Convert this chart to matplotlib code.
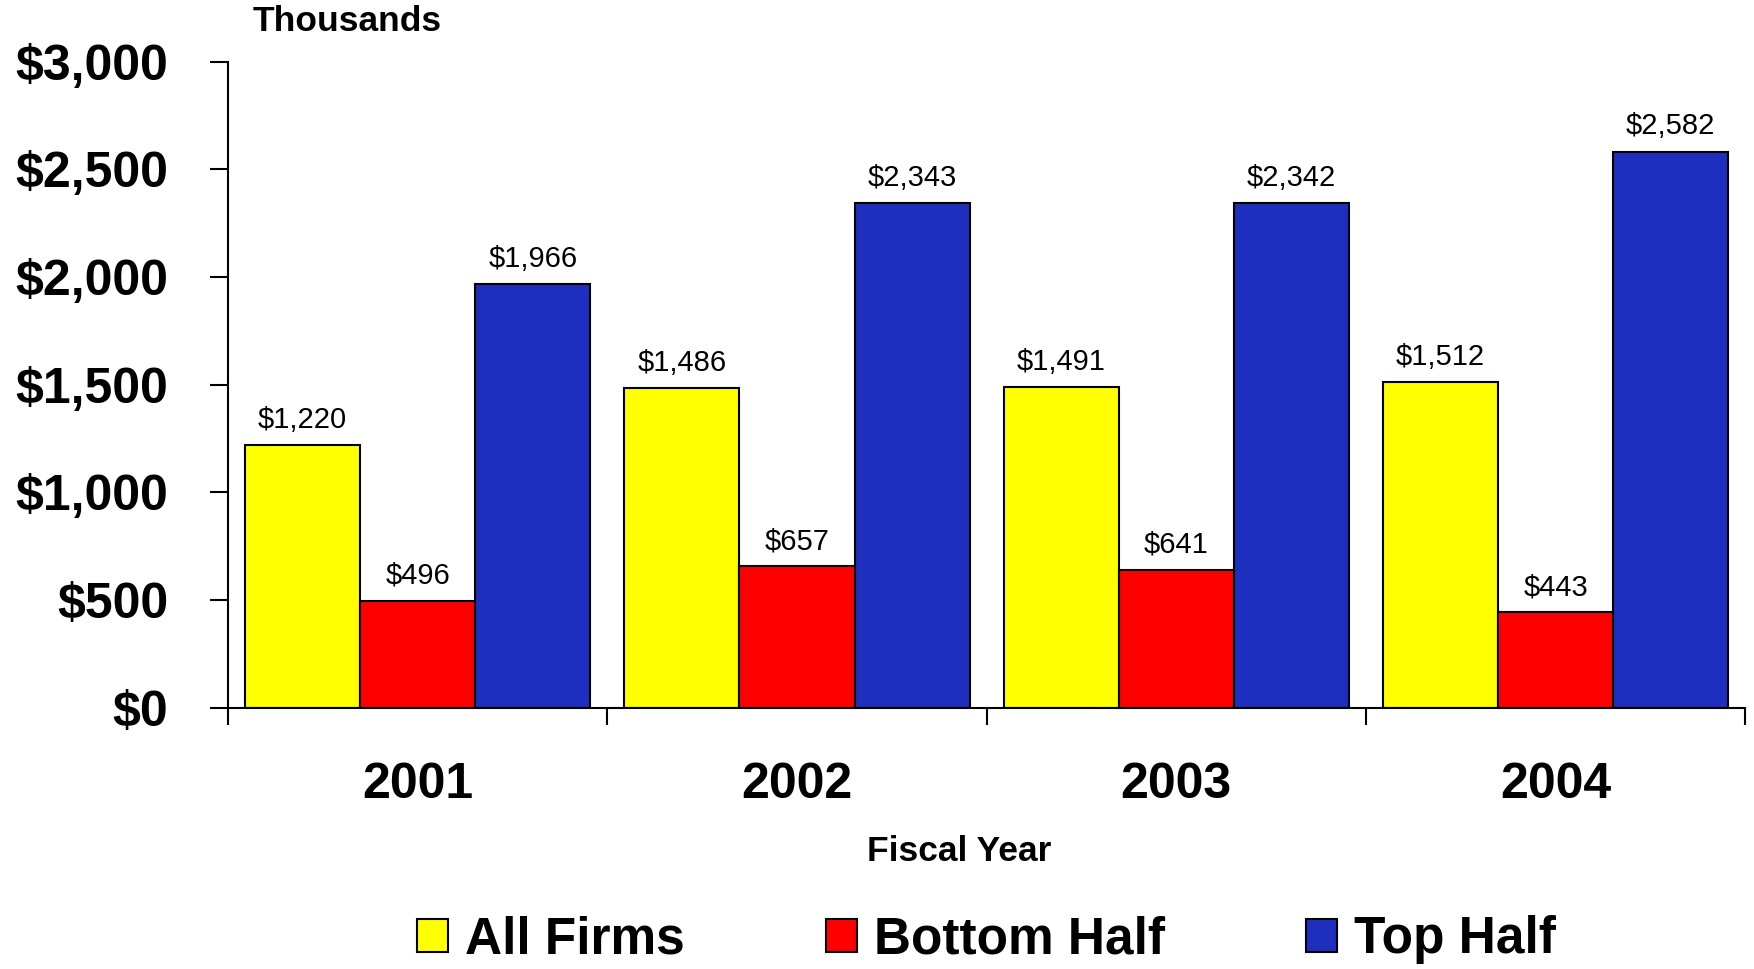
import matplotlib
matplotlib.use("Agg")
import matplotlib.pyplot as plt
from matplotlib.patches import Patch
import numpy as np

plt.rcParams['font.family'] = ['Liberation Sans', 'DejaVu Sans']

years = ['2001', '2002', '2003', '2004']
series = ['All Firms', 'Bottom Half', 'Top Half']
all_firms = [1220, 1486, 1491, 1512]
bottom_half = [496, 657, 641, 443]
top_half = [1966, 2343, 2342, 2582]
colors = ['#FFFF00', '#FF0000', '#1E2EBE']


def money(v):
    return "${:,.0f}".format(v)


def bar_chart():
    fig = plt.figure(figsize=(17.54, 9.69), dpi=100)
    ax = fig.add_axes([0.130, 0.2694, 0.865, 0.6671])

    x = np.arange(len(years))
    w = 0.3035
    for k, (vals, col) in enumerate(zip([all_firms, bottom_half, top_half], colors)):
        pos = x + (k - 1) * w
        ax.bar(pos, vals, width=w, color=col, edgecolor='black', linewidth=1.5)
        for px, v in zip(pos, vals):
            ax.annotate(money(v), (px, v), xytext=(0, 8), textcoords='offset points',
                        ha='center', va='bottom', fontsize=21)

    ax.set_xlim(-0.5, len(years) - 0.5)
    ax.set_ylim(0, 3000)
    ax.set_yticks(np.arange(0, 3001, 500))
    ax.set_yticklabels([money(v) for v in np.arange(0, 3001, 500)],
                       fontsize=36, fontweight='bold')
    ax.tick_params(axis='y', length=13, width=1.5, pad=30)

    # year labels sit at the group centres, tick marks at the group boundaries
    ax.set_xticks(x)
    ax.set_xticklabels(years, fontsize=36, fontweight='bold')
    ax.set_xticks(np.arange(-0.5, len(years)), minor=True)
    ax.tick_params(axis='x', which='major', length=0, pad=39)
    ax.tick_params(axis='x', which='minor', length=12, width=1.5)

    for s in ['top', 'right']:
        ax.spines[s].set_visible(False)
    for s in ['left', 'bottom']:
        ax.spines[s].set_linewidth(1.5)

    fig.text(0.144, 0.978, 'Thousands', fontsize=25.5, fontweight='bold',
             ha='left', va='center')
    fig.text(0.5466, 0.121, 'Fiscal Year', fontsize=25.5, fontweight='bold',
             ha='center', va='center')

    handles = [Patch(facecolor=c, edgecolor='black', linewidth=1.5) for c in colors]
    fig.legend(handles, series, loc='center', bbox_to_anchor=(0.5625, 0.03),
               ncol=3, frameon=False, prop={'size': 37, 'weight': 'bold'},
               handlelength=0.6, handleheight=0.6, handletextpad=0.33,
               columnspacing=2.75, borderpad=0)

    fig.savefig('out.png', dpi=100)


if __name__ == "__main__":
    bar_chart()
